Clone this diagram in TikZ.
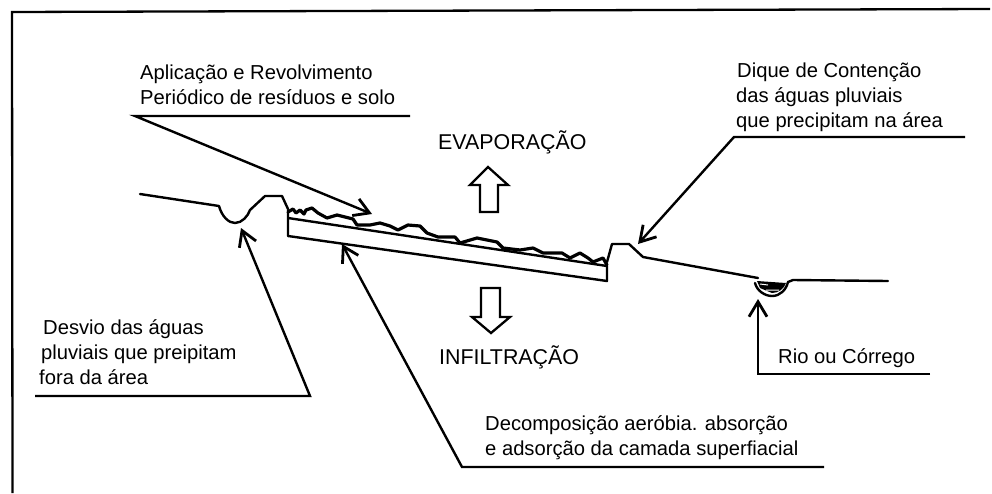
\documentclass[tikz,border=0pt]{standalone}
\usepackage{fontspec}
\setmainfont{Liberation Sans}
\usetikzlibrary{arrows.meta}
\tikzset{
  label text/.style={font=\fontsize{20.2}{25}\selectfont, inner sep=0pt, anchor=west, align=left, text=black},
  big label/.style={label text, font=\fontsize{21.4}{25}\selectfont},
  ground/.style={line width=2.4pt, line join=round, line cap=round},
  leader/.style={line width=2.4pt, line join=miter},
  pointer/.style={leader, -{Straight Barb[length=15pt,width=18pt,line width=2.8pt]}},
  flow/.style={draw=black, line width=2.3pt, fill=white, line join=miter}
}
\begin{document}
\begin{tikzpicture}[x=1pt,y=-1pt]
\useasboundingbox (0,0) rectangle (992,493);
\fill[white] (0,0) rectangle (992,493);
% frame: only the top and left edges are printed
\coordinate (frameA) at (990,9);
\coordinate (frameB) at (12,12);
\coordinate (frameC) at (12.5,493);
\draw[line width=2.3pt] (frameA) -- (frameB) -- (frameC);

% labels
\node[label text] (aplic) at (140,84.5) {Aplicação e Revolvimento\\Periódico de resíduos e solo};
\node[label text] (dique) at (736,97) {\hspace*{1pt}Dique de Contenção\\das águas pluviais\\que precipitam na área};
\node[big label] (evap) at (438,142) {EVAPORAÇÃO};
\node[big label] (infil) at (439,357) {INFILTRAÇÃO};
\node[label text] (desvio) at (39,352) {\hspace*{4pt}Desvio das águas\\\hspace*{2pt}pluviais que preipitam\\fora da área};
\node[label text] (rio) at (778,358) {Rio ou Córrego};
\node[label text] (decomp) at (485,437.5) {Decomposição aeróbia. absorção\\e adsorção da camada superfiacial};

% terrain: left bank, ditch and bund
\draw[ground] (140,194) -- (219,206) .. controls (222,217) and (229,223) .. (235,223)
  .. controls (242,223) and (248,216) .. (250,210) -- (265,196) -- (282,196) -- (288,209);
% soil slab under the treated layer
\draw[ground] (288,210) -- (288,236) -- (607,281) -- (607,266) -- (288,218);
% ploughed surface layer
\draw[ground,line width=3.2pt] (288,212) -- (293,209) -- (296,213) -- (300,210) -- (304,214) -- (306,210) -- (312,208)
  -- (318,213) -- (327,218) -- (337,215) -- (353,219) -- (357,225) -- (370,225) -- (380,223) -- (390,226)
  -- (398,230) -- (408,225) -- (420,226) -- (427,233) -- (438,237) -- (455,237) -- (460,243) -- (477,238)
  -- (497,242) -- (503,248) -- (520,250) -- (533,248) -- (543,253) -- (562,253) -- (570,258) -- (580,253)
  -- (588,258) -- (593,262) -- (603,258) -- (607,265);
% right bund and slope to the stream
\draw[ground] (607,262) -- (612,244) -- (629,244) -- (643,257) -- (758,278)
  (755,283) .. controls (757,291) and (765,296) .. (772,296) .. controls (780,296) and (786,290) .. (788,282)
  -- (793,280) -- (888,281);
% stream water
\fill (757,281) -- (786,283) .. controls (784,289) and (778,293) .. (772,293) -- (760,288) -- cycle;
\draw[white,line width=1pt] (760,284) -- (768,285)  (766,290) -- (779,290);

% evaporation and infiltration block arrows
\draw[flow] (488,167) -- (508,185) -- (498,185) -- (498,212) -- (480,212) -- (480,185) -- (470,185) -- cycle;
\draw[flow] (491,333) -- (510,317) -- (500,317) -- (500,288) -- (481,288) -- (481,317) -- (472,317) -- cycle;

% leaders with their pointers
\coordinate (a0) at (135,116);
\coordinate (a1) at (410,116);
\coordinate (a2) at (372,214);
\draw[pointer] (a1) -- (a0) -- (a2);
\coordinate (d1) at (965,137);
\coordinate (d2) at (734,137);
\coordinate (d3) at (638,244);
\draw[pointer] (d1) -- (d2) -- (d3);
\coordinate (de1) at (35,396);
\coordinate (de2) at (310,396);
\coordinate (de3) at (241,228);
\draw[pointer] (de1) -- (de2) -- (de3);
\coordinate (r1) at (930,374);
\coordinate (r2) at (758,374);
\coordinate (r3) at (758,299);
\draw[pointer] (r1) -- (r2) -- (r3);
\coordinate (c1) at (824,467);
\coordinate (c2) at (462,467);
\coordinate (c3) at (342,244);
\draw[pointer] (c1) -- (c2) -- (c3);
\end{tikzpicture}
\end{document}
